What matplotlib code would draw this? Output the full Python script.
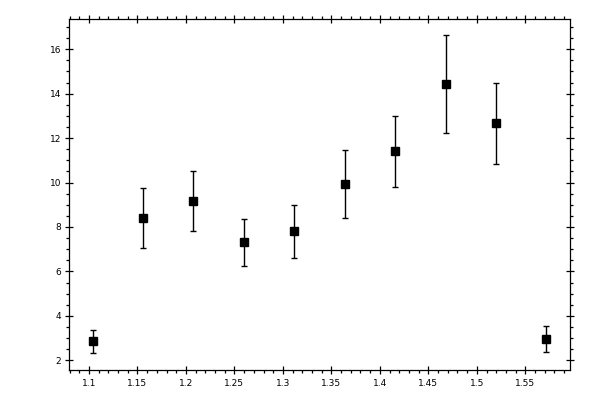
import numpy as np
import matplotlib
matplotlib.use('Agg')
import matplotlib.pyplot as plt
from matplotlib.ticker import MultipleLocator

# values
x_vals = [1.1037, 1.1557, 1.2077, 1.2597, 1.3117, 1.3637, 1.4157, 1.4677, 1.5197, 1.5717]
y_vals = [2.86, 8.39, 9.16, 7.31, 7.81, 9.92, 11.41, 14.43, 12.67, 2.95]
y_err = [0.52, 1.35, 1.35, 1.05, 1.20, 1.53, 1.60, 2.20, 1.82, 0.59]

fig = plt.figure(figsize=(6, 4), dpi=100)
ax = fig.add_axes([0.1155, 0.0743, 0.835, 0.8775])

ax.errorbar(x_vals, y_vals, yerr=y_err, fmt='s', color='black', ms=5.2,
            ecolor='black', elinewidth=1.0, capsize=2.3, capthick=1.0)

ax.set_xlim(1.0797, 1.5964)
ax.set_ylim(1.55, 17.35)

ax.xaxis.set_minor_locator(MultipleLocator(0.01))
ax.yaxis.set_minor_locator(MultipleLocator(0.5))
ax.set_xticks(np.arange(1.1, 1.56, 0.05))
ax.set_xticklabels(['1.1', '1.15', '1.2', '1.25', '1.3', '1.35', '1.4', '1.45', '1.5', '1.55'])
ax.set_yticks(np.arange(2, 17, 2))

ax.tick_params(which='major', direction='inout', length=6, width=0.9,
               top=True, right=True, labelsize=6.5, pad=3)
ax.tick_params(which='minor', direction='out', length=2.5, width=0.9,
               top=True, right=True)
for s in ax.spines.values():
    s.set_linewidth(0.9)

fig.savefig('out.png', dpi=100)
